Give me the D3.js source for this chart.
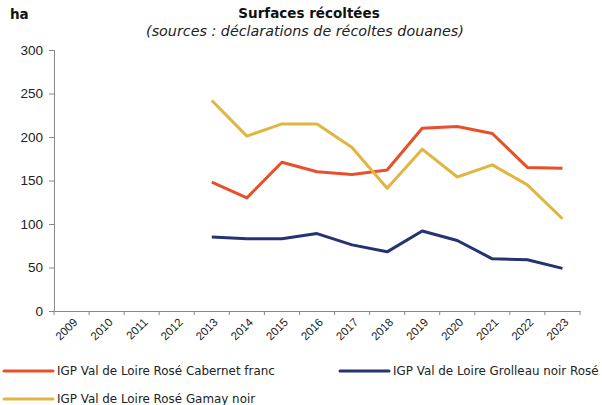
<!DOCTYPE html>
<html><head><meta charset="utf-8">
<script src="https://cdn.jsdelivr.net/npm/d3@7"></script>
<style>body{margin:0;background:#fff}svg{display:block;font-family:"DejaVu Sans",sans-serif}</style>
</head><body>
<svg id="c" width="602" height="405"></svg>
<script>
const years = ["2009","2010","2011","2012","2013","2014","2015","2016","2017","2018","2019","2020","2021","2022","2023"];
const seriesNames = ["IGP Val de Loire Rosé Cabernet franc","IGP Val de Loire Grolleau noir Rosé","IGP Val de Loire Rosé Gamay noir"];
const cabernet = [null,null,null,null,148,130,171,160,157,162,210,212,204,165,164];
const grolleau = [null,null,null,null,85,83,83,89,76,68,92,81,60,59,49];
const gamay = [null,null,null,null,242,201,215,215,188,141,186,154,168,145,106];
const yTicks = [0,50,100,150,200,250,300];
const colors = ["#E8502A","#253370","#E1B640"];

const svg = d3.select("#c");
const x = d3.scaleBand().domain(years).range([54,580]);
const y = d3.scaleLinear().domain([0,300]).range([311,50]);

// y axis
const ya = svg.append("g").attr("transform","translate(54,0)")
  .call(d3.axisLeft(y).tickValues(yTicks).tickSize(5).tickPadding(6));
ya.selectAll("text").attr("font-size",13.5).attr("fill","#222");
ya.selectAll("line,path").attr("stroke","#888");
// x axis
const xa = svg.append("g").attr("transform","translate(0,311)")
  .call(d3.axisBottom(x).tickSize(0).tickPadding(0));
xa.select("path").attr("stroke","#888");
xa.selectAll("text").attr("font-size",11.5).attr("fill","#222")
  .attr("text-anchor","end")
  .attr("transform","translate(4,9) rotate(-45)").attr("dy","0.35em");
svg.append("g").selectAll("line").data(years.concat(["end"])).join("line")
  .attr("x1",(d,i)=>i<years.length?x(d):x.range()[1]).attr("x2",(d,i)=>i<years.length?x(d):x.range()[1])
  .attr("y1",311).attr("y2",315).attr("stroke","#888");

// lines
const all = [cabernet,grolleau,gamay];
const line = d3.line().defined(d=>d!=null).x((d,i)=>x(years[i])+x.bandwidth()/2).y(d=>y(d));
all.forEach((s,k)=>{
  svg.append("path").datum(s).attr("d",line).attr("fill","none")
    .attr("stroke",colors[k]).attr("stroke-width",3).attr("stroke-linejoin","round");
});

// titles
svg.append("text").attr("x",309).attr("y",18).attr("text-anchor","middle")
  .attr("font-weight","bold").attr("font-size",13.5).attr("fill","#111").text("Surfaces récoltées");
svg.append("text").attr("x",305).attr("y",36).attr("text-anchor","middle")
  .attr("font-style","italic").attr("font-size",14.3).attr("fill","#222")
  .text("(sources : déclarations de récoltes douanes)");
svg.append("text").attr("x",10).attr("y",19).attr("font-weight","bold")
  .attr("font-size",13.5).attr("fill","#111").text("ha");

// legend
const leg = [{i:0,x:4,y:371},{i:1,x:340,y:371},{i:2,x:4,y:399}];
leg.forEach(l=>{
  svg.append("line").attr("x1",l.x).attr("x2",l.x+49).attr("y1",l.y).attr("y2",l.y)
    .attr("stroke",colors[l.i]).attr("stroke-width",3).attr("stroke-linecap","round");
  svg.append("text").attr("x",l.x+53).attr("y",l.y).attr("dy","0.35em")
    .attr("font-size",11.9).attr("fill","#222").text(seriesNames[l.i]);
});
</script>
</body></html>
